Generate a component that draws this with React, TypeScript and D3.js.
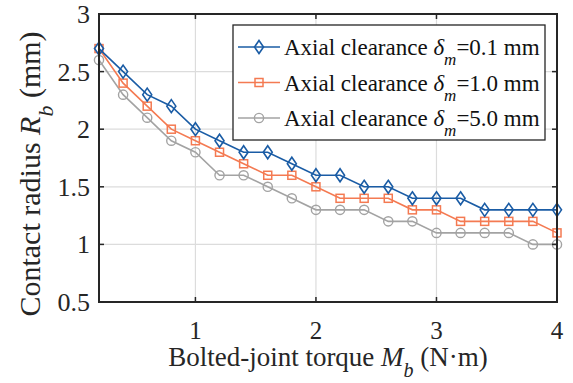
import * as d3 from "d3";
import { useRef, useEffect } from "react";

// torque values (N·m)
const torque = [0.2, 0.4, 0.6, 0.8, 1.0, 1.2, 1.4, 1.6, 1.8, 2.0, 2.2, 2.4, 2.6, 2.8, 3.0, 3.2, 3.4, 3.6, 3.8, 4.0];
// contact radius (mm) for each axial clearance
const radius01 = [2.7, 2.5, 2.3, 2.2, 2.0, 1.9, 1.8, 1.8, 1.7, 1.6, 1.6, 1.5, 1.5, 1.4, 1.4, 1.4, 1.3, 1.3, 1.3, 1.3];
const radius10 = [2.7, 2.4, 2.2, 2.0, 1.9, 1.8, 1.7, 1.6, 1.6, 1.5, 1.4, 1.4, 1.4, 1.3, 1.3, 1.2, 1.2, 1.2, 1.2, 1.1];
const radius50 = [2.6, 2.3, 2.1, 1.9, 1.8, 1.6, 1.6, 1.5, 1.4, 1.3, 1.3, 1.3, 1.2, 1.2, 1.1, 1.1, 1.1, 1.1, 1.0, 1.0];
const clearances = ["0.1", "1.0", "5.0"];
const xTicks = [1, 2, 3, 4];
const yTicks = [0.5, 1, 1.5, 2, 2.5, 3];

const colors = ["#1a5ca5", "#f47a52", "#a3a3a3"];
const markers = ["diamond", "square", "circle"];

export default function App() {
  const svgRef = useRef<SVGSVGElement | null>(null);

  useEffect(() => {
    if (!svgRef.current) return;
    const W = 573, H = 383;
    const m = { left: 99, right: 16, top: 14, bottom: 81 };
    const font = "Liberation Serif, Times New Roman, serif";

    const svg = d3.select(svgRef.current);
    svg.selectAll("*").remove();

    const x = d3.scaleLinear().domain([0.2, 4]).range([m.left, W - m.right]);
    const y = d3.scaleLinear().domain([0.5, 3]).range([H - m.bottom, m.top]);

    // grid
    const grid = svg.append("g").attr("stroke", "#dcdcdc").attr("stroke-width", 1.2);
    xTicks.forEach(t => grid.append("line").attr("x1", x(t)).attr("x2", x(t)).attr("y1", y(0.5)).attr("y2", y(3)));
    yTicks.forEach(t => grid.append("line").attr("x1", x(0.2)).attr("x2", x(4)).attr("y1", y(t)).attr("y2", y(t)));

    // series
    const series = [radius01, radius10, radius50];
    const line = d3.line<number>().x((_, i) => x(torque[i])).y(d => y(d));

    function drawMarker(g: d3.Selection<SVGGElement, unknown, null, undefined>, kind: string, cx: number, cy: number, color: string) {
      if (kind === "diamond") {
        g.append("path").attr("d", `M${cx},${cy - 6.5}L${cx + 4.5},${cy}L${cx},${cy + 6.5}L${cx - 4.5},${cy}Z`)
          .attr("fill", "none").attr("stroke", color).attr("stroke-width", 1.6);
      } else if (kind === "square") {
        g.append("rect").attr("x", cx - 4).attr("y", cy - 4).attr("width", 8).attr("height", 8)
          .attr("fill", "none").attr("stroke", color).attr("stroke-width", 1.5);
      } else {
        g.append("circle").attr("cx", cx).attr("cy", cy).attr("r", 4.6)
          .attr("fill", "none").attr("stroke", color).attr("stroke-width", 1.4);
      }
    }

    // draw back to front: gray, orange, blue
    [2, 1, 0].forEach(k => {
      const g = svg.append("g");
      g.append("path").attr("d", line(series[k])!).attr("fill", "none")
        .attr("stroke", colors[k]).attr("stroke-width", 1.6);
      series[k].forEach((v, i) => drawMarker(g, markers[k], x(torque[i]), y(v), colors[k]));
    });

    // axes box
    const axis = svg.append("g").attr("stroke", "#262626").attr("fill", "none");
    axis.append("rect").attr("x", x(0.2)).attr("y", y(3)).attr("width", x(4) - x(0.2)).attr("height", y(0.5) - y(3))
      .attr("stroke-width", 2);
    xTicks.forEach(t => {
      axis.append("line").attr("x1", x(t)).attr("x2", x(t)).attr("y1", y(0.5)).attr("y2", y(0.5) - 5).attr("stroke-width", 1.5);
      axis.append("line").attr("x1", x(t)).attr("x2", x(t)).attr("y1", y(3)).attr("y2", y(3) + 5).attr("stroke-width", 1.5);
    });
    yTicks.forEach(t => {
      axis.append("line").attr("x1", x(0.2)).attr("x2", x(0.2) + 5).attr("y1", y(t)).attr("y2", y(t)).attr("stroke-width", 1.5);
      axis.append("line").attr("x1", x(4)).attr("x2", x(4) - 5).attr("y1", y(t)).attr("y2", y(t)).attr("stroke-width", 1.5);
    });

    const txt = svg.append("g").attr("font-family", font).attr("fill", "#262626");
    xTicks.forEach(t => txt.append("text").attr("x", x(t)).attr("y", y(0.5) + 37)
      .attr("text-anchor", "middle").attr("font-size", 25).text(d3.format("d")(t)));
    yTicks.forEach(t => txt.append("text").attr("x", x(0.2) - 9).attr("y", y(t) + 9)
      .attr("text-anchor", "end").attr("font-size", 26).text(String(t)));

    // x label
    const xl = txt.append("text").attr("x", (x(0.2) + x(4)) / 2).attr("y", 366)
      .attr("text-anchor", "middle").attr("font-size", 27);
    xl.append("tspan").text("Bolted-joint torque ");
    xl.append("tspan").attr("font-style", "italic").text("M");
    xl.append("tspan").attr("font-style", "italic").attr("font-size", 20).attr("dy", 11).text("b");
    xl.append("tspan").attr("dy", -11).text(" (N·m)");

    // y label
    const yl = txt.append("text").attr("transform", `translate(40,174) rotate(-90)`)
      .attr("text-anchor", "middle").attr("font-size", 30);
    yl.append("tspan").text("Contact radius ");
    yl.append("tspan").attr("font-style", "italic").text("R");
    yl.append("tspan").attr("font-style", "italic").attr("font-size", 22).attr("dy", 13).text("b");
    yl.append("tspan").attr("dy", -13).text(" (mm)");

    // legend
    const lg = svg.append("g");
    lg.append("rect").attr("x", 233).attr("y", 25).attr("width", 312).attr("height", 115)
      .attr("fill", "#fff").attr("stroke", "#262626").attr("stroke-width", 1.3);
    clearances.forEach((c, k) => {
      const cy = 47 + k * 35.5;
      const g = lg.append("g");
      g.append("line").attr("x1", 238).attr("x2", 280).attr("y1", cy).attr("y2", cy)
        .attr("stroke", colors[k]).attr("stroke-width", 1.6);
      drawMarker(g, markers[k], 259, cy, colors[k]);
      const t = g.append("text").attr("x", 284).attr("y", cy + 8).attr("font-family", font)
        .attr("font-size", 23).attr("fill", "#111");
      t.append("tspan").text("Axial clearance ");
      t.append("tspan").attr("font-style", "italic").text("δ");
      t.append("tspan").attr("font-style", "italic").attr("font-size", 17).attr("dy", 10).text("m");
      t.append("tspan").attr("dy", -10).text(`=${c} mm`);
    });
  }, []);

  return (
    <svg ref={svgRef} width={573} height={383}
      style={{ position: "absolute", left: 0, top: 0, background: "#fff" }} />
  );
}
